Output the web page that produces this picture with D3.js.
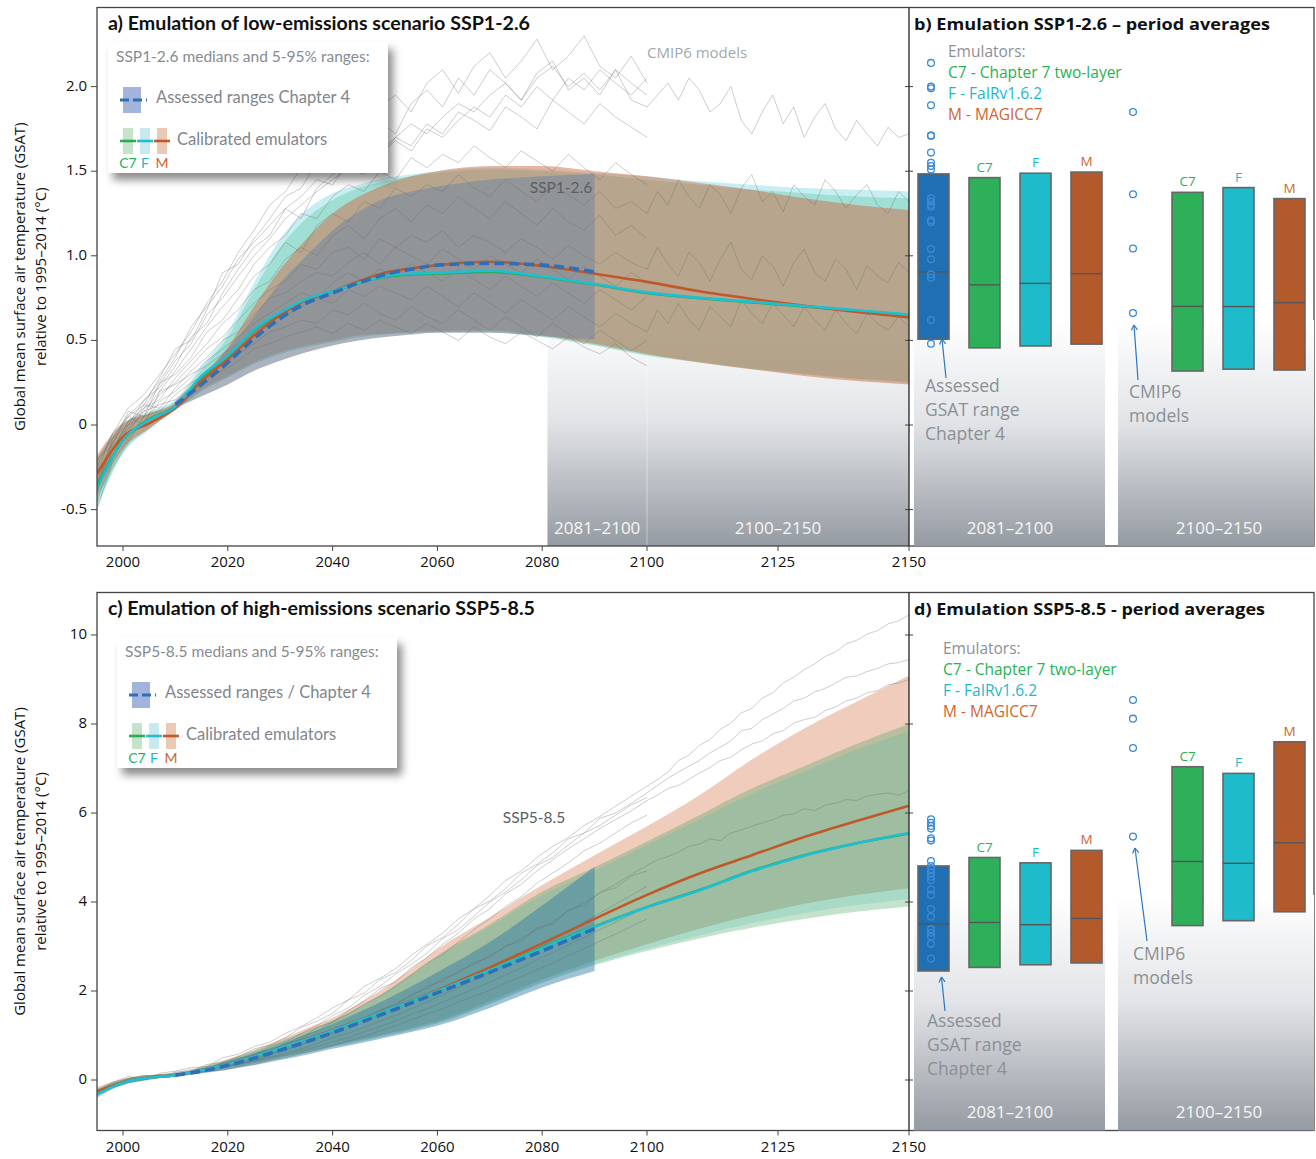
<!DOCTYPE html>
<html><head><meta charset="utf-8">
<script src="https://cdn.jsdelivr.net/npm/d3@7"></script>
<style>body{margin:0;background:#fff}svg{display:block}</style>
</head><body><svg id="chart" width="1316" height="1159"></svg>
<script>
// ---------------- DATA ----------------
const years = [1995,2000,2005,2010,2015,2020,2025,2030,2035,2040,2045,2050,2055,2060,2070,2080,2090,2100,2110,2120,2130,2140,2150];
const yearsAssessed = [2010,2015,2020,2025,2030,2035,2040,2045,2050,2055,2060,2070,2080,2090];
const yearsCmip = [1995,1998,2001,2004,2007,2010,2013,2016,2019,2022,2025,2028,2031,2034,2037,2040,2043,2046,2049,2052,2055,2058,2061,2064,2067,2070,2073,2076,2079,2082,2085,2088,2091,2094,2097,2100];
const yearsExt = [2100,2102,2104,2106,2108,2110,2112,2114,2116,2118,2120,2122,2124,2126,2128,2130,2132,2134,2136,2138,2140,2142,2144,2146,2148,2150];
const xTicks = [2000,2020,2040,2060,2080,2100,2125,2150];
const yTicksA = [-0.5,0,0.5,1.0,1.5,2.0];
const yTickLabelsA = ["-0.5","0","0.5","1.0","1.5","2.0"];
const yTicksC = [0,2,4,6,8,10];

// SSP1-2.6 emulator medians and 5-95% ranges
const a_C7_med = [-0.36,-0.09,0.035,0.11,0.28,0.41,0.56,0.66,0.74,0.79,0.84,0.875,0.89,0.895,0.905,0.875,0.83,0.78,0.75,0.725,0.70,0.675,0.65];
const a_F_med  = [-0.38,-0.09,0.03,0.11,0.29,0.41,0.565,0.665,0.745,0.79,0.84,0.88,0.895,0.90,0.912,0.878,0.833,0.784,0.752,0.728,0.703,0.678,0.653];
const a_M_med  = [-0.29,-0.07,0.01,0.10,0.26,0.39,0.53,0.65,0.74,0.79,0.85,0.90,0.925,0.945,0.965,0.94,0.894,0.846,0.79,0.745,0.705,0.668,0.636];
const a_C7_lo  = [-0.48,-0.16,-0.02,0.09,0.20,0.28,0.36,0.42,0.46,0.49,0.52,0.535,0.545,0.55,0.55,0.52,0.47,0.41,0.37,0.33,0.30,0.27,0.25];
const a_C7_hi  = [-0.20,0.00,0.07,0.14,0.33,0.52,0.80,1.05,1.22,1.33,1.40,1.44,1.47,1.49,1.51,1.50,1.48,1.45,1.42,1.39,1.37,1.35,1.34];
const a_F_lo   = [-0.50,-0.17,-0.03,0.09,0.20,0.28,0.36,0.42,0.46,0.49,0.52,0.535,0.545,0.55,0.555,0.525,0.475,0.415,0.375,0.335,0.305,0.275,0.255];
const a_F_hi   = [-0.20,0.01,0.08,0.15,0.35,0.55,0.84,1.10,1.27,1.37,1.42,1.46,1.48,1.50,1.52,1.51,1.49,1.47,1.44,1.42,1.40,1.39,1.38];
const a_M_lo   = [-0.42,-0.14,-0.02,0.09,0.21,0.29,0.37,0.43,0.47,0.50,0.53,0.54,0.55,0.555,0.56,0.53,0.48,0.42,0.37,0.33,0.29,0.26,0.24];
const a_M_hi   = [-0.18,0.01,0.07,0.13,0.29,0.46,0.70,0.92,1.10,1.25,1.35,1.42,1.47,1.50,1.53,1.53,1.50,1.47,1.43,1.39,1.34,1.30,1.27];
// SSP1-2.6 assessed (Chapter 4)
const a_As_med = [0.12,0.24,0.37,0.51,0.63,0.72,0.78,0.84,0.89,0.92,0.945,0.955,0.945,0.905];
const a_As_lo  = [0.10,0.17,0.24,0.32,0.38,0.43,0.47,0.50,0.52,0.535,0.545,0.545,0.525,0.505];
const a_As_hi  = [0.14,0.28,0.45,0.64,0.84,1.00,1.15,1.26,1.34,1.38,1.41,1.45,1.47,1.485];
// SSP1-2.6 CMIP6 models
const a_m1  = [-0.25,-0.05,0.10,0.18,0.30,0.42,0.55,0.72,0.85,1.02,1.15,1.30,1.38,1.52,1.60,1.66,1.78,1.72,1.88,1.95,1.85,2.02,2.10,1.96,2.12,2.20,2.05,2.15,2.28,2.10,2.18,2.30,2.12,2.05,2.18,2.02];
const a_m2  = [-0.30,-0.10,0.05,0.12,0.28,0.45,0.50,0.68,0.90,0.95,1.10,1.22,1.35,1.40,1.55,1.62,1.58,1.75,1.80,1.72,1.90,1.98,1.88,2.05,1.95,2.10,2.02,1.92,2.08,2.15,1.98,2.05,1.95,2.10,1.92,1.88];
const a_m3  = [-0.35,-0.08,0.00,0.15,0.22,0.35,0.52,0.60,0.78,0.92,1.05,1.12,1.28,1.22,1.40,1.48,1.55,1.50,1.62,1.70,1.65,1.78,1.72,1.85,1.80,1.74,1.88,1.82,1.75,1.92,1.85,1.78,1.90,1.82,1.76,1.70];
const a_m4  = [-0.40,-0.15,0.02,0.08,0.20,0.32,0.45,0.58,0.70,0.80,0.95,1.05,1.12,1.25,1.22,1.35,1.42,1.38,1.50,1.45,1.58,1.52,1.60,1.55,1.65,1.58,1.52,1.62,1.56,1.50,1.60,1.52,1.45,1.55,1.48,1.42];
const a_m5  = [-0.20,-0.12,0.08,0.05,0.25,0.30,0.40,0.55,0.62,0.75,0.88,0.95,1.08,1.02,1.18,1.25,1.20,1.32,1.28,1.40,1.35,1.42,1.38,1.48,1.40,1.35,1.45,1.38,1.32,1.42,1.36,1.30,1.38,1.28,1.32,1.25];
const a_m6  = [-0.45,-0.20,-0.05,0.10,0.15,0.28,0.38,0.48,0.60,0.68,0.80,0.85,0.98,1.05,1.00,1.12,1.18,1.10,1.22,1.28,1.20,1.30,1.25,1.35,1.28,1.22,1.32,1.25,1.18,1.28,1.20,1.15,1.24,1.12,1.18,1.10];
const a_m7  = [-0.30,-0.18,0.00,0.05,0.18,0.25,0.35,0.45,0.52,0.62,0.72,0.80,0.85,0.95,0.92,1.02,1.05,0.98,1.10,1.05,1.12,1.08,1.15,1.05,1.12,1.08,1.02,1.10,1.05,0.98,1.06,1.00,0.95,1.02,0.96,0.92];
const a_m8  = [-0.38,-0.10,-0.02,0.12,0.10,0.22,0.32,0.40,0.50,0.55,0.65,0.75,0.78,0.85,0.90,0.88,0.96,1.02,0.95,1.05,1.00,0.95,1.04,0.98,0.92,1.00,0.95,0.90,0.98,0.92,0.86,0.94,0.88,0.82,0.90,0.84];
const a_m9  = [-0.50,-0.22,-0.08,0.02,0.14,0.20,0.28,0.38,0.45,0.52,0.60,0.66,0.72,0.78,0.75,0.84,0.90,0.85,0.92,0.88,0.95,0.90,0.85,0.92,0.86,0.80,0.88,0.82,0.76,0.84,0.78,0.72,0.80,0.74,0.68,0.76];
const a_m10 = [-0.28,-0.05,0.05,0.00,0.20,0.24,0.30,0.35,0.42,0.48,0.55,0.62,0.65,0.70,0.75,0.72,0.80,0.76,0.82,0.78,0.74,0.82,0.76,0.70,0.78,0.72,0.66,0.74,0.68,0.62,0.70,0.64,0.58,0.66,0.60,0.55];
const a_m11 = [-0.42,-0.25,-0.10,0.05,0.08,0.18,0.25,0.30,0.36,0.42,0.48,0.55,0.58,0.62,0.60,0.68,0.65,0.72,0.66,0.62,0.70,0.64,0.60,0.68,0.62,0.56,0.64,0.58,0.52,0.60,0.54,0.48,0.56,0.50,0.44,0.50];
const a_m12 = [-0.35,-0.12,-0.03,0.08,0.12,0.15,0.22,0.28,0.32,0.38,0.45,0.48,0.52,0.55,0.58,0.54,0.60,0.56,0.62,0.58,0.54,0.60,0.55,0.50,0.58,0.52,0.48,0.55,0.50,0.45,0.52,0.46,0.42,0.48,0.40,0.35];
const a_m13 = [-0.32,-0.15,0.02,0.10,0.24,0.38,0.48,0.65,0.75,0.88,1.00,1.10,1.22,1.30,1.38,1.45,1.52,1.48,1.60,1.68,1.62,1.75,1.70,1.80,1.88,1.82,1.95,1.88,2.00,1.92,2.05,1.98,2.10,2.02,1.95,2.05];
const a_m14 = [-0.22,-0.08,0.06,0.14,0.26,0.40,0.58,0.70,0.82,0.98,1.08,1.18,1.28,1.35,1.45,1.42,1.55,1.62,1.58,1.70,1.78,1.72,1.82,1.90,1.85,1.95,2.02,1.92,2.05,2.12,2.00,2.08,1.98,2.10,2.02,1.95];
const a_e1 = [1.88,1.95,2.02,1.92,2.05,1.98,1.85,1.90,2.00,1.80,1.72,1.85,1.95,1.78,1.88,1.70,1.82,1.90,1.75,1.68,1.80,1.72,1.65,1.76,1.70,1.72];
const a_e2 = [1.25,1.38,1.30,1.45,1.35,1.28,1.42,1.36,1.25,1.40,1.48,1.32,1.38,1.26,1.42,1.35,1.30,1.45,1.38,1.28,1.36,1.42,1.30,1.25,1.38,1.32];
const a_e3 = [0.92,1.05,0.95,0.88,1.02,0.96,0.85,0.98,1.08,0.92,0.86,1.00,0.94,0.82,0.96,1.04,0.90,0.85,0.98,0.92,0.80,0.94,0.88,0.84,0.96,0.90];
const a_e4 = [0.55,0.68,0.60,0.72,0.62,0.56,0.70,0.64,0.58,0.74,0.66,0.60,0.72,0.65,0.58,0.70,0.62,0.56,0.68,0.60,0.54,0.66,0.60,0.56,0.64,0.58];

// SSP5-8.5 emulator medians and ranges
const c_C7_med = [-0.30,-0.06,0.05,0.11,0.22,0.36,0.52,0.72,0.91,1.11,1.33,1.55,1.77,2.00,2.48,2.98,3.45,3.89,4.27,4.70,5.05,5.32,5.54];
const c_F_med  = [-0.32,-0.06,0.05,0.11,0.22,0.36,0.52,0.72,0.91,1.11,1.33,1.55,1.77,2.00,2.47,2.96,3.44,3.88,4.26,4.69,5.04,5.32,5.55];
const c_M_med  = [-0.26,-0.05,0.05,0.11,0.22,0.36,0.52,0.72,0.92,1.12,1.34,1.56,1.78,2.02,2.53,3.07,3.62,4.16,4.64,5.05,5.46,5.82,6.16];
const c_C7_lo  = [-0.36,-0.11,0.00,0.09,0.16,0.25,0.36,0.49,0.61,0.74,0.86,0.99,1.12,1.27,1.70,2.18,2.58,2.90,3.18,3.42,3.62,3.78,3.90];
const c_C7_hi  = [-0.20,0.01,0.10,0.13,0.28,0.45,0.65,0.87,1.10,1.34,1.64,1.98,2.38,2.80,3.50,4.23,4.78,5.36,5.95,6.55,7.05,7.55,8.00];
const c_F_lo   = [-0.38,-0.12,0.00,0.09,0.16,0.26,0.37,0.50,0.62,0.75,0.88,1.01,1.14,1.29,1.72,2.21,2.61,2.95,3.25,3.52,3.75,3.93,4.07];
const c_F_hi   = [-0.20,0.01,0.10,0.13,0.28,0.44,0.64,0.85,1.08,1.32,1.62,1.95,2.34,2.76,3.45,4.15,4.70,5.28,5.85,6.43,6.93,7.42,7.85];
const c_M_lo   = [-0.32,-0.10,0.01,0.09,0.17,0.27,0.38,0.51,0.64,0.77,0.90,1.03,1.17,1.32,1.77,2.26,2.68,3.05,3.40,3.70,3.96,4.16,4.31];
const c_M_hi   = [-0.16,0.02,0.11,0.14,0.30,0.47,0.68,0.91,1.16,1.40,1.72,2.08,2.50,2.94,3.66,4.38,5.05,5.70,6.40,7.20,7.90,8.50,9.09];
const c_As_med = [0.11,0.20,0.33,0.49,0.67,0.86,1.06,1.28,1.50,1.73,1.96,2.42,2.90,3.40];
const c_As_lo  = [0.09,0.15,0.23,0.33,0.45,0.57,0.70,0.82,0.95,1.08,1.22,1.62,2.08,2.45];
const c_As_hi  = [0.13,0.26,0.42,0.60,0.80,1.02,1.26,1.52,1.80,2.10,2.42,3.10,3.92,4.79];
// SSP5-8.5 CMIP6 models
const c_m1  = [-0.25,-0.05,0.08,0.02,0.15,0.20,0.28,0.30,0.50,0.58,0.75,0.85,1.05,1.20,1.40,1.62,1.80,2.10,2.28,2.50,2.80,3.05,3.30,3.62,3.85,4.15,4.48,4.70,5.00,5.25,5.45,5.72,5.92,6.15,6.38,6.60];
const c_m2  = [-0.35,-0.12,-0.02,0.08,0.06,0.18,0.20,0.35,0.40,0.52,0.70,0.78,0.95,1.18,1.32,1.50,1.80,1.95,2.25,2.42,2.68,3.02,3.20,3.50,3.85,4.02,4.30,4.65,4.85,5.10,5.42,5.55,5.88,6.00,6.22,6.45];
const c_m3  = [-0.38,-0.15,-0.05,0.00,0.12,0.10,0.18,0.28,0.35,0.48,0.55,0.75,0.85,1.05,1.22,1.45,1.62,1.90,2.10,2.38,2.60,2.85,3.18,3.38,3.68,4.00,4.22,4.50,4.82,5.00,5.28,5.55,5.72,5.95,6.18,6.35];
const c_m4  = [-0.28,-0.18,0.02,0.04,0.08,0.14,0.15,0.25,0.30,0.40,0.52,0.62,0.80,0.92,1.18,1.30,1.55,1.78,2.05,2.20,2.52,2.75,3.05,3.30,3.62,3.85,4.18,4.40,4.70,4.95,5.20,5.42,5.65,5.85,6.05,6.28];
const c_m5  = [-0.32,-0.10,0.03,0.10,0.10,0.16,0.24,0.26,0.38,0.45,0.58,0.68,0.80,0.98,1.10,1.30,1.48,1.70,1.88,2.10,2.35,2.62,2.82,3.10,3.38,3.62,3.90,4.12,4.42,4.65,4.88,5.15,5.32,5.55,5.78,5.95];
const c_m6  = [-0.30,-0.10,0.00,0.06,0.10,0.12,0.20,0.25,0.32,0.40,0.48,0.60,0.65,0.82,0.95,1.10,1.22,1.40,1.55,1.72,1.88,2.10,2.22,2.45,2.60,2.80,2.98,3.18,3.38,3.55,3.80,3.98,4.20,4.40,4.62,4.82];
const c_m7  = [-0.36,-0.14,-0.04,0.04,0.12,0.08,0.18,0.22,0.35,0.36,0.45,0.55,0.70,0.78,0.98,1.05,1.25,1.35,1.58,1.68,1.92,2.05,2.28,2.40,2.65,2.75,3.02,3.12,3.42,3.50,3.82,3.92,4.22,4.32,4.58,4.70];
const c_m8  = [-0.28,-0.06,0.04,0.10,0.08,0.14,0.16,0.26,0.28,0.38,0.42,0.52,0.60,0.70,0.82,0.95,1.05,1.18,1.32,1.45,1.60,1.75,1.92,2.08,2.25,2.42,2.58,2.78,2.95,3.15,3.35,3.55,3.75,3.95,4.15,4.35];
const c_m9  = [-0.40,-0.18,-0.06,0.02,0.06,0.10,0.12,0.20,0.22,0.30,0.35,0.45,0.50,0.60,0.68,0.78,0.88,0.98,1.10,1.22,1.35,1.48,1.60,1.75,1.88,2.02,2.18,2.32,2.48,2.62,2.80,2.95,3.12,3.28,3.45,3.62];
const c_m10 = [-0.33,-0.12,0.02,0.05,0.12,0.15,0.20,0.24,0.32,0.34,0.42,0.50,0.56,0.66,0.75,0.86,0.95,1.08,1.20,1.32,1.48,1.60,1.75,1.90,2.05,2.20,2.36,2.52,2.70,2.86,3.04,3.20,3.38,3.55,3.72,3.90];
const c_e1 = [6.60,6.75,6.92,7.18,7.30,7.52,7.65,7.88,8.02,8.25,8.35,8.58,8.70,8.92,9.05,9.22,9.35,9.52,9.62,9.80,9.88,10.02,10.10,10.25,10.32,10.45];
const c_e2 = [6.45,6.62,6.78,6.92,7.05,7.18,7.35,7.48,7.62,7.85,7.90,8.10,8.22,8.35,8.52,8.58,8.72,8.80,8.92,9.05,9.08,9.18,9.25,9.35,9.38,9.45];
const c_e3 = [6.28,6.40,6.55,6.62,6.75,6.90,7.02,7.18,7.25,7.42,7.55,7.62,7.78,7.85,8.02,8.10,8.15,8.30,8.38,8.52,8.58,8.70,8.75,8.88,8.92,9.00];
const c_e4 = [4.82,4.95,5.02,5.12,5.25,5.30,5.42,5.38,5.55,5.62,5.70,5.78,5.85,5.95,5.98,6.10,6.05,6.18,6.22,6.30,6.28,6.38,6.42,6.45,6.40,6.50];

// Period averages (5%, median, 95%)
const boxNames = ["Assessed","C7","F","M"];
const b_2081 = [[0.507,0.905,1.484],[0.456,0.828,1.462],[0.467,0.837,1.488],[0.478,0.894,1.495]];
const b_2100 = [[0.319,0.701,1.375],[0.330,0.700,1.403],[0.325,0.723,1.338]];
const d_2081 = [[2.45,3.51,4.81],[2.53,3.54,5.00],[2.59,3.49,4.88],[2.63,3.63,5.16]];
const d_2100 = [[3.47,4.91,7.04],[3.58,4.87,6.89],[3.78,5.33,7.60]];
const b_cmip2081 = [2.14,2.00,1.99,1.89,1.71,1.71,1.61,1.55,1.53,1.51,1.34,1.32,1.30,1.29,1.21,1.20,1.04,0.98,0.89,0.87,0.62,0.48];
const b_cmip2100 = [1.85,1.364,1.043,0.662];
const d_cmip2081 = [5.86,5.78,5.71,5.65,5.43,5.38,4.92,4.81,4.73,4.65,4.57,4.49,4.28,4.16,3.84,3.67,3.39,3.31,3.22,3.06,2.73];
const d_cmip2100 = [8.54,8.12,7.46,5.47];
const periods = ["2081\u20132100","2100\u20132150"];

// ---------------- DRAWING ----------------
const svg = d3.select("#chart");
const COL = {C7:"#2dab55", F:"#1fbfd1", M:"#bf592a", As:"#2f6fb8", grid:"#444"};
const BOX = {Assessed:"#1f6fb2", C7:"#2eaf5a", F:"#1ebccb", M:"#b35a2d"};
const TXT = {C7:"#27b255", F:"#1db7cc", M:"#d0652f"};
const FS = "'Open Sans', sans-serif", FL = "Lato, sans-serif";

const defs = svg.append("defs");
const sh = defs.append("filter").attr("id","shadow").attr("x","-10%").attr("y","-10%").attr("width","130%").attr("height","140%");
sh.append("feDropShadow").attr("dx",5).attr("dy",7).attr("stdDeviation",4).attr("flood-color","#000").attr("flood-opacity",0.45);
const gr = defs.append("linearGradient").attr("id","fade").attr("x1",0).attr("y1",0).attr("x2",0).attr("y2",1);
gr.append("stop").attr("offset","0").attr("stop-color","#ffffff");
gr.append("stop").attr("offset","0.45").attr("stop-color","#e2e4e7");
gr.append("stop").attr("offset","1").attr("stop-color","#959ba2");

const x = d3.scaleLinear().domain([1995,2150]).range([96.8,909]);
const yA = d3.scaleLinear().domain([-0.5,2.0]).range([509.6,86.6]);
const yC = d3.scaleLinear().domain([0,10]).range([1080,635]);

function zipS(xs, ys){ return xs.map((d,i)=>[d, ys[i]]); }
function zipB(xs, lo, hi){ return xs.map((d,i)=>[d, lo[i], hi[i]]); }

function drawPanel(cfg){
  const y = cfg.y, top = cfg.top, bot = cfg.bot;
  const g = svg.append("g");
  const clipId = "clip"+cfg.id;
  defs.append("clipPath").attr("id",clipId).append("rect").attr("x",97).attr("y",top).attr("width",812).attr("height",bot-top);
  const pg = g.append("g").attr("clip-path","url(#"+clipId+")");
  if (cfg.fade){
    pg.append("rect").attr("x",x(2081)).attr("y",bot-230).attr("width",909-x(2081)).attr("height",230).attr("fill","url(#fade)");
    pg.append("line").attr("x1",x(2100)).attr("x2",x(2100)).attr("y1",bot-200).attr("y2",bot).attr("stroke","#fff").attr("stroke-opacity",0.35).attr("stroke-width",1.2);
  }
  const area = d3.area().x(d=>x(d[0])).y0(d=>y(d[1])).y1(d=>y(d[2])).curve(d3.curveMonotoneX);
  const line = d3.line().x(d=>x(d[0])).y(d=>y(d[1])).curve(d3.curveMonotoneX);
  const lineRaw = d3.line().x(d=>x(d[0])).y(d=>y(d[1]));
  cfg.bands.forEach(b=>{
    pg.append("path").attr("d",area(zipB(b.xs,b.lo,b.hi))).attr("fill",b.fill).attr("fill-opacity",b.op);
  });
  cfg.cmip.forEach(m=>{
    pg.append("path").attr("d",lineRaw(zipS(cfg.cmipYears,m))).attr("fill","none").attr("stroke","#6a6a6a").attr("stroke-opacity",0.42).attr("stroke-width",0.8);
  });
  cfg.ext.forEach(m=>{
    pg.append("path").attr("d",lineRaw(zipS(yearsExt,m))).attr("fill","none").attr("stroke","#6a6a6a").attr("stroke-opacity",0.42).attr("stroke-width",0.8);
  });
  pg.append("path").attr("d",line(zipS(years,cfg.C7))).attr("fill","none").attr("stroke",COL.C7).attr("stroke-width",2.6);
  pg.append("path").attr("d",line(zipS(years,cfg.M))).attr("fill","none").attr("stroke",COL.M).attr("stroke-width",2.6);
  pg.append("path").attr("d",line(zipS(years,cfg.F))).attr("fill","none").attr("stroke",COL.F).attr("stroke-width",2.6);
  pg.append("path").attr("d",line(zipS(yearsAssessed,cfg.As))).attr("fill","none").attr("stroke",COL.As).attr("stroke-width",3.6).attr("stroke-dasharray","10,5");
  if (cfg.fade){
    [[2081,2100,periods[0]],[2100,2150,periods[1]]].forEach(p=>{
      g.append("text").attr("x",(x(p[0])+x(p[1]))/2).attr("y",bot-17).attr("text-anchor","middle").attr("dominant-baseline","middle")
        .attr("font-family",FS).attr("font-size",17).attr("fill","#f6f6f6").text(p[2]);
    });
  }
  g.append("text").attr("x",cfg.scen[0]).attr("y",cfg.scen[1]).attr("text-anchor","middle").attr("dominant-baseline","middle")
    .attr("font-family",FL).attr("font-size",15.5).attr("fill","#5b5e62").text(cfg.scen[2]);
  cfg.yticks.forEach((t,i)=>{
    g.append("line").attr("x1",91).attr("x2",97).attr("y1",y(t)).attr("y2",y(t)).attr("stroke",COL.grid).attr("stroke-width",1);
    g.append("line").attr("x1",905).attr("x2",913).attr("y1",y(t)).attr("y2",y(t)).attr("stroke",COL.grid).attr("stroke-width",1);
    g.append("text").attr("x",87).attr("y",y(t)).attr("text-anchor","end").attr("dominant-baseline","middle")
      .attr("font-family",FS).attr("font-size",15).attr("fill","#111").text(cfg.ylabels[i]);
  });
  xTicks.forEach(t=>{
    g.append("line").attr("x1",x(t)).attr("x2",x(t)).attr("y1",bot).attr("y2",bot+5).attr("stroke",COL.grid).attr("stroke-width",1);
    g.append("text").attr("x",x(t)).attr("y",bot+17).attr("text-anchor","middle").attr("dominant-baseline","middle")
      .attr("font-family",FS).attr("font-size",15).attr("fill","#111").text(t);
  });
  g.append("rect").attr("x",97).attr("y",top).attr("width",1314-97).attr("height",bot-top).attr("fill","none").attr("stroke",COL.grid).attr("stroke-width",1.3);
  g.append("line").attr("x1",909).attr("x2",909).attr("y1",top).attr("y2",bot).attr("stroke","#222").attr("stroke-width",1.3);
  const cy = (top+bot)/2;
  g.append("text").attr("transform",`translate(21,${cy}) rotate(-90)`).attr("text-anchor","middle").attr("dominant-baseline","middle")
    .attr("font-family",FS).attr("font-size",15).attr("fill","#111").text("Global mean surface air temperature (GSAT)");
  g.append("text").attr("transform",`translate(42,${cy}) rotate(-90)`).attr("text-anchor","middle").attr("dominant-baseline","middle")
    .attr("font-family",FS).attr("font-size",15).attr("fill","#111").text("relative to 1995\u20132014 (\u00B0C)");
  g.append("text").attr("x",108).attr("y",top+18).attr("dominant-baseline","middle").attr("font-family",FL).attr("font-weight",700)
    .attr("font-size",18.5).attr("fill","#111").attr("textLength",cfg.titleLen).attr("lengthAdjust","spacingAndGlyphs").text(cfg.title);
  const L = g.append("g").attr("transform",`translate(${cfg.leg[0]},${cfg.leg[1]})`);
  L.append("rect").attr("width",280).attr("height",131).attr("fill","#fff").attr("filter","url(#shadow)");
  L.append("text").attr("x",8).attr("y",16).attr("dominant-baseline","middle").attr("font-family",FL).attr("font-size",15.5).attr("fill","#858b92").text(cfg.legTitle);
  L.append("rect").attr("x",15).attr("y",45).attr("width",18).attr("height",26).attr("fill","#a2b3dc");
  L.append("line").attr("x1",12).attr("x2",39).attr("y1",58).attr("y2",58).attr("stroke",COL.As).attr("stroke-width",3).attr("stroke-dasharray","9,4");
  L.append("text").attr("x",48).attr("y",57).attr("dominant-baseline","middle").attr("font-family",FL).attr("font-size",16.5).attr("fill","#7f868d").text(cfg.legAs);
  [["C7",15,"#c5e3c8",COL.C7,TXT.C7],["F",32,"#c8e9ef",COL.F,TXT.F],["M",49,"#ecc9b4",COL.M,TXT.M]].forEach(e=>{
    L.append("rect").attr("x",e[1]).attr("y",86).attr("width",10).attr("height",26).attr("fill",e[2]);
    L.append("line").attr("x1",e[1]-3).attr("x2",e[1]+13).attr("y1",99).attr("y2",99).attr("stroke",e[3]).attr("stroke-width",2.6);
    L.append("text").attr("x",e[1]+5).attr("y",122).attr("text-anchor","middle").attr("dominant-baseline","middle").attr("font-family",FL).attr("font-size",14).attr("fill",e[4]).text(e[0]);
  });
  L.append("text").attr("x",69).attr("y",99).attr("dominant-baseline","middle").attr("font-family",FL).attr("font-size",16.5).attr("fill","#7f868d").text("Calibrated emulators");
  if (cfg.cmipLabel){
    g.append("text").attr("x",647).attr("y",top+46).attr("dominant-baseline","middle").attr("font-family",FS).attr("font-size",15).attr("fill","#a3a8ad").text("CMIP6 models");
  }
}

function drawBoxes(cfg){
  const y = cfg.y, top = cfg.top, bot = cfg.bot;
  const g = svg.append("g");
  g.append("rect").attr("x",914).attr("y",cfg.fadeTop).attr("width",1105-914).attr("height",bot-cfg.fadeTop).attr("fill","url(#fade)");
  g.append("rect").attr("x",1118).attr("y",cfg.fadeTop).attr("width",1314-1118).attr("height",bot-cfg.fadeTop).attr("fill","url(#fade)");
  const gx1 = [918,969,1020,1071], gx2 = [1172,1223,1274];
  function box(xp, v, name, labelled){
    g.append("rect").attr("x",xp).attr("y",y(v[2])).attr("width",31).attr("height",y(v[0])-y(v[2]))
      .attr("fill",BOX[name]).attr("stroke","#666").attr("stroke-width",1.6);
    g.append("line").attr("x1",xp).attr("x2",xp+31).attr("y1",y(v[1])).attr("y2",y(v[1])).attr("stroke","#555").attr("stroke-width",1.4);
    if (labelled) g.append("text").attr("x",xp+15.5).attr("y",y(v[2])-6).attr("text-anchor","middle").attr("font-family",FS).attr("font-size",13.5).attr("fill",TXT[name]).text(name);
  }
  cfg.g1.forEach((v,i)=>box(gx1[i], v, boxNames[i], i>0));
  cfg.g2.forEach((v,i)=>box(gx2[i], v, boxNames[i+1], true));
  cfg.c1.forEach(v=>g.append("circle").attr("cx",931).attr("cy",y(v)).attr("r",3.4).attr("fill","none").attr("stroke","#3b8ad8").attr("stroke-width",1.3));
  cfg.c2.forEach(v=>g.append("circle").attr("cx",1133).attr("cy",y(v)).attr("r",3.4).attr("fill","none").attr("stroke","#3b8ad8").attr("stroke-width",1.3));
  function arrow(x1,y1,x2,y2){
    g.append("line").attr("x1",x1).attr("y1",y1).attr("x2",x2).attr("y2",y2).attr("stroke","#2a78c2").attr("stroke-width",1.2);
    const a = Math.atan2(y2-y1,x2-x1), L=6;
    [a+2.6, a-2.6].forEach(t=>g.append("line").attr("x1",x2).attr("y1",y2).attr("x2",x2+L*Math.cos(t)).attr("y2",y2+L*Math.sin(t)).attr("stroke","#2a78c2").attr("stroke-width",1.2));
  }
  arrow(cfg.a1[0],cfg.a1[1],cfg.a1[2],cfg.a1[3]);
  arrow(cfg.a2[0],cfg.a2[1],cfg.a2[2],cfg.a2[3]);
  ["Assessed","GSAT range","Chapter 4"].forEach((t,i)=>g.append("text").attr("x",cfg.t1[0]).attr("y",cfg.t1[1]+i*24).attr("dominant-baseline","middle").attr("font-family",FS).attr("font-size",17.5).attr("fill","#8a9096").text(t));
  ["CMIP6","models"].forEach((t,i)=>g.append("text").attr("x",cfg.t2[0]).attr("y",cfg.t2[1]+i*24).attr("dominant-baseline","middle").attr("font-family",FS).attr("font-size",17.5).attr("fill","#8a9096").text(t));
  [["Emulators:","#8a9096"],["C7 - Chapter 7 two-layer",TXT.C7],["F - FaIRv1.6.2",TXT.F],["M - MAGICC7",TXT.M]].forEach((t,i)=>
    g.append("text").attr("x",cfg.leg[0]).attr("y",cfg.leg[1]+i*21).attr("dominant-baseline","middle").attr("font-family",FS).attr("font-size",15.5).attr("fill",t[1]).text(t[0]));
  [[1010,periods[0]],[1219,periods[1]]].forEach(p=>g.append("text").attr("x",p[0]).attr("y",bot-17).attr("text-anchor","middle").attr("dominant-baseline","middle")
    .attr("font-family",FS).attr("font-size",17).attr("fill","#f6f6f6").text(p[1]));
  g.append("text").attr("x",914).attr("y",top+18).attr("dominant-baseline","middle").attr("font-family",FS).attr("font-weight",700)
    .attr("font-size",16.5).attr("fill","#111").attr("textLength",cfg.titleLen).attr("lengthAdjust","spacingAndGlyphs").text(cfg.title);
}

drawPanel({id:"a", y:yA, top:7.5, bot:546, fade:true, yticks:yTicksA, ylabels:yTickLabelsA,
  bands:[{xs:years,lo:a_C7_lo,hi:a_C7_hi,fill:"#2eae5a",op:0.25},{xs:years,lo:a_F_lo,hi:a_F_hi,fill:"#1fbcd0",op:0.25},
         {xs:years,lo:a_M_lo,hi:a_M_hi,fill:"#cd6e46",op:0.5},{xs:yearsAssessed,lo:a_As_lo,hi:a_As_hi,fill:"#808c9e",op:0.66}],
  cmipYears:yearsCmip, cmip:[a_m1,a_m2,a_m3,a_m4,a_m5,a_m6,a_m7,a_m8,a_m9,a_m10,a_m11,a_m12,a_m13,a_m14], ext:[a_e1,a_e2,a_e3,a_e4],
  C7:a_C7_med, F:a_F_med, M:a_M_med, As:a_As_med, scen:[561,189,"SSP1-2.6"],
  title:"a) Emulation of low-emissions scenario SSP1-2.6", titleLen:422, leg:[108,42],
  legTitle:"SSP1-2.6 medians and 5-95% ranges:", legAs:"Assessed ranges Chapter 4", cmipLabel:true});

drawPanel({id:"c", y:yC, top:592.5, bot:1130.5, fade:false, yticks:yTicksC, ylabels:yTicksC.map(String),
  bands:[{xs:years,lo:c_M_lo,hi:c_M_hi,fill:"#d67850",op:0.38},{xs:years,lo:c_F_lo,hi:c_F_hi,fill:"#1fbcd0",op:0.18},
         {xs:years,lo:c_C7_lo,hi:c_C7_hi,fill:"#3aa35a",op:0.3},{xs:yearsAssessed,lo:c_As_lo,hi:c_As_hi,fill:"#2a78a6",op:0.45}],
  cmipYears:yearsCmip, cmip:[c_m1,c_m2,c_m3,c_m4,c_m5,c_m6,c_m7,c_m8,c_m9,c_m10], ext:[c_e1,c_e2,c_e3,c_e4],
  C7:c_C7_med, F:c_F_med, M:c_M_med, As:c_As_med, scen:[534,819,"SSP5-8.5"],
  title:"c) Emulation of high-emissions scenario SSP5-8.5", titleLen:427, leg:[117,637],
  legTitle:"SSP5-8.5 medians and 5-95% ranges:", legAs:"Assessed ranges / Chapter 4", cmipLabel:false});

drawBoxes({y:yA, top:7.5, bot:546, fadeTop:320, g1:b_2081, g2:b_2100, c1:b_cmip2081, c2:b_cmip2100,
  a1:[946,378,942,339], a2:[1138,380,1134,325], t1:[925,387], t2:[1129,393], leg:[948,53],
  title:"b) Emulation SSP1-2.6 \u2013 period averages", titleLen:356});
drawBoxes({y:yC, top:592.5, bot:1130.5, fadeTop:895, g1:d_2081, g2:d_2100, c1:d_cmip2081, c2:d_cmip2100,
  a1:[945,1011,941.5,977], a2:[1147,941,1135,848], t1:[927,1022], t2:[1133,955], leg:[943,650],
  title:"d) Emulation SSP5-8.5 - period averages", titleLen:351});
</script></body></html>
